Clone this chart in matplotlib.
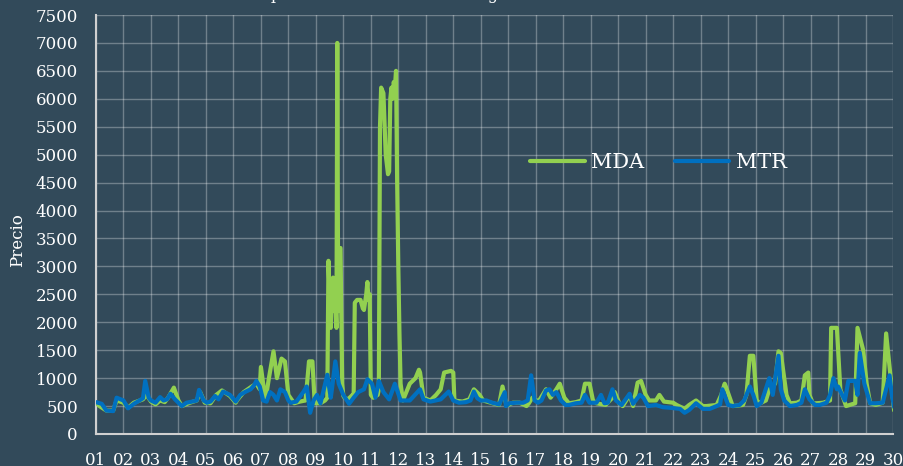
import matplotlib
matplotlib.use("Agg")
import matplotlib.pyplot as plt
import numpy as np

# ---- data: hours since start of day 01, price ----
mda_hours = [0, 3, 9, 15, 18, 24, 28, 33, 41, 44, 48, 52, 56, 60, 63, 68, 72, 75, 82, 88, 91, 95,
             100, 105, 110, 117, 122, 123, 129, 136, 140, 143, 144, 148, 151, 155, 158, 162, 165,
             168, 173, 178, 183, 186, 189, 191, 196, 200, 202, 203, 204, 205, 206, 207, 208, 209,
             210, 210.7, 211.5, 212.5, 213.5, 215, 216, 217, 220, 224, 225, 226, 228, 231, 233,
             234, 236, 237, 238, 239, 240, 242, 246, 247, 248, 249, 251, 253, 255, 256, 257, 258,
             259, 260, 261, 262, 263, 264, 265, 266, 268, 274, 279, 282, 283, 286, 292, 297, 301,
             304, 310, 312, 313, 320, 326, 330, 335, 338, 343, 352, 355, 358, 360, 364, 370, 376,
             378, 381, 384, 387, 393, 397, 402, 405, 409, 413, 419, 424, 427, 431, 434, 437, 445,
             451, 453, 457, 460, 463, 466, 469, 473, 476, 480, 483, 489, 492, 496, 504, 507, 514,
             518, 524, 530, 533, 542, 546, 549, 550, 555, 556, 565, 568, 571, 574, 577, 580, 585,
             588, 593, 596, 598, 603, 606, 612, 616, 619, 622, 623, 626, 629, 635, 641, 642, 647,
             650, 655, 663, 665, 670, 673, 676, 681, 687, 690, 693, 697]
mda_values = [560, 500, 420, 420, 600, 560, 470, 560, 620, 700, 580, 530, 600, 570, 650, 830, 600, 500,
              560, 600, 750, 560, 550, 700, 780, 680, 560, 600, 750, 850, 900, 800, 1200, 600, 1000,
              1480, 1000, 1350, 1300, 700, 550, 580, 600, 1300, 1300, 550, 550, 600, 650, 3100, 2500,
              1900, 2300, 2800, 2200, 2600, 1900, 7000, 2200, 3300, 3330, 900, 680, 650, 620, 700,
              700, 2350, 2400, 2400, 2250, 2220, 2500, 2720, 2400, 2500, 700, 650, 700, 800, 5500,
              6200, 6100, 5000, 4650, 4700, 6000, 6200, 6000, 6300, 6200, 6500, 4500, 3000, 1800, 900,
              600, 900, 1000, 1150, 1100, 650, 600, 700, 800, 1100, 1130, 1100, 600, 580, 620, 800,
              700, 600, 570, 520, 850, 550, 520, 560, 560, 500, 550, 650, 600, 600, 800, 650, 800,
              900, 650, 550, 570, 600, 900, 900, 600, 550, 520, 650, 750, 550, 500, 600, 700, 500,
              920, 950, 700, 600, 600, 700, 580, 560, 520, 450, 520, 600, 500, 500, 520, 700, 900,
              850, 560, 500, 520, 700, 1400, 1400, 600, 550, 600, 800, 900, 1480, 1450, 700, 550,
              560, 600, 1050, 1100, 700, 550, 550, 560, 600, 1900, 1900, 800, 500, 550, 1900, 1500,
              900, 550, 520, 560, 1800, 1200, 420]

mtr_hours = [0, 5, 9, 15, 18, 24, 28, 33, 38, 41, 43, 46, 48, 52, 56, 59, 62, 65, 69, 75, 79, 84, 88,
             90, 94, 97, 100, 104, 107, 111, 117, 122, 126, 130, 135, 138, 140, 143, 146, 149, 152,
             155, 158, 161, 165, 168, 170, 175, 181, 184, 187, 190, 193, 196, 202, 205, 206, 209,
             212, 216, 221, 225, 229, 234, 237, 241, 244, 247, 251, 256, 261, 266, 274, 283, 286,
             292, 301, 308, 312, 317, 323, 327, 330, 333, 336, 341, 346, 352, 357, 358, 361, 367,
             373, 377, 380, 383, 386, 389, 393, 396, 399, 402, 406, 410, 413, 419, 424, 427, 431,
             437, 441, 444, 447, 451, 454, 459, 466, 469, 475, 478, 482, 489, 495, 501, 510, 514,
             518, 524, 530, 536, 542, 545, 547, 552, 556, 562, 566, 571, 574, 577, 581, 588, 591,
             596, 598, 601, 606, 612, 616, 619, 623, 628, 632, 638, 641, 644, 647, 648, 654, 657,
             663, 665, 667, 671, 676, 681, 687, 693, 695, 697]
mtr_values = [570, 540, 420, 410, 650, 600, 460, 540, 600, 640, 950, 650, 600, 560, 660, 600, 620, 720,
              620, 500, 560, 580, 600, 790, 600, 560, 580, 680, 620, 760, 700, 580, 700, 750, 800, 870,
              950, 850, 600, 580, 750, 700, 600, 800, 750, 600, 560, 580, 750, 850, 380, 600, 700, 550,
              1060, 650, 800, 1300, 900, 700, 540, 650, 750, 800, 980, 900, 650, 950, 750, 620, 900,
              600, 600, 800, 620, 580, 620, 760, 600, 560, 570, 600, 760, 640, 600, 600, 560, 530, 750,
              500, 550, 560, 560, 600, 1050, 600, 560, 600, 780, 800, 700, 750, 600, 520, 520, 550,
              560, 700, 560, 560, 700, 550, 560, 800, 600, 520, 720, 540, 700, 650, 500, 520, 480, 470,
              450, 380, 430, 550, 450, 450, 500, 530, 800, 520, 500, 520, 600, 850, 700, 500, 560,
              1000, 700, 1400, 800, 600, 500, 520, 560, 800, 620, 520, 520, 560, 700, 1000, 800, 850,
              600, 950, 950, 700, 1450, 900, 550, 550, 560, 1050, 700, 480]

day_labels = [f"{d:02d}" for d in range(1, 31)]
y_ticks = list(range(0, 7501, 500))

BG = "#324a5a"
GREEN = "#92D050"
BLUE = "#0070C0"
FONT = "DejaVu Serif"

fig = plt.figure(figsize=(9.04, 4.66), dpi=100, facecolor=BG)
ax = fig.add_axes([96 / 904, 1 - 434 / 466, (893 - 96) / 904, (434 - 15) / 466])
ax.set_facecolor(BG)

mda_x = 1 + np.array(mda_hours) / 24.0
mtr_x = 1 + np.array(mtr_hours) / 24.0
ax.plot(mda_x, mda_values, color=GREEN, lw=3.0, solid_joinstyle="round",
        solid_capstyle="round", label="MDA", zorder=3)
ax.plot(mtr_x, mtr_values, color=BLUE, lw=3.0, solid_joinstyle="round",
        solid_capstyle="round", label="MTR", zorder=4)

ax.set_xlim(1, 30)
ax.set_ylim(0, 7500)
ax.set_xticks(range(1, 31))
ax.set_xticklabels(day_labels)
ax.set_yticks(y_ticks)
ax.set_yticklabels([str(v) for v in y_ticks])
ax.grid(True, color="white", alpha=0.3, lw=1)
ax.set_axisbelow(True)
ax.tick_params(length=0, colors="white", labelsize=12, pad=13)
for lab in ax.get_xticklabels() + ax.get_yticklabels():
    lab.set_fontfamily(FONT)
for s in ["top", "right"]:
    ax.spines[s].set_visible(False)
ax.spines["left"].set_color("#d0d0d0")
ax.spines["left"].set_linewidth(1.5)
ax.spines["bottom"].set_color("#d0d0d0")
ax.spines["bottom"].set_linewidth(1.5)

leg = ax.legend(loc="center left", bbox_to_anchor=(0.545, 0.647), ncol=2, frameon=False,
                handlelength=2.6, handletextpad=0.3, columnspacing=1.5, borderpad=0,
                borderaxespad=0, prop={"family": FONT, "size": 15})
for t in leg.get_texts():
    t.set_color("white")

fig.text(18 / 904, 1 - 240 / 466, "Precio", rotation=90, ha="center", va="center",
         color="white", fontsize=12, family=FONT)
fig.text(214 / 904, 1 + 1 / 466, "Precio promedio MDA vs MTR - Agosto", ha="left",
         va="baseline", color="white", fontsize=11.5, family=FONT)

fig.savefig("out.png", dpi=100, facecolor=BG)
